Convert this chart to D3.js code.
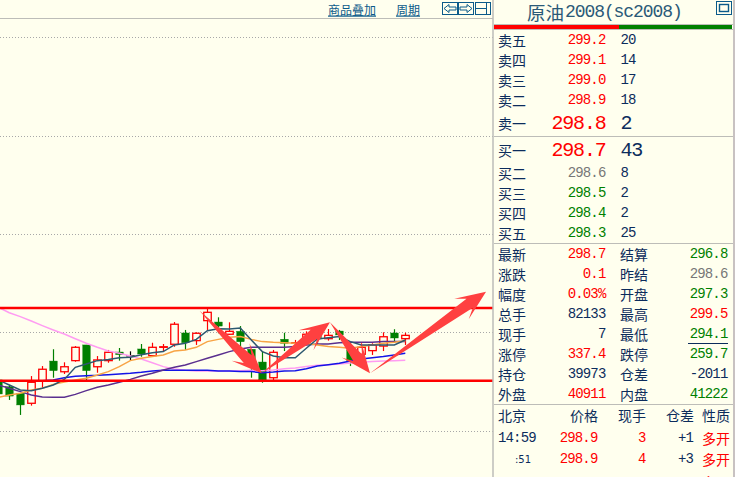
<!DOCTYPE html>
<html>
<head>
<meta charset="utf-8">
<script src="https://cdn.jsdelivr.net/npm/d3@7"></script>
<style>
html, body { margin: 0; padding: 0; background: #ffffee; overflow: hidden; }
svg { display: block; }
</style>
</head>
<body>
<svg id="chart"></svg>
<script>
// candles, oldest first
var opens = [294.32, 293.83, 293.36, 292.64, 294.27, 295.68, 294.91, 295.71, 296.84, 295.27, 295.71, 296.33, 296.07, 296.55, 296.07, 296.67, 296.89, 297.70, 297.15, 298.59, 298.49, 297.61, 297.82, 296.53, 295.61, 294.48, 297.25, 296.96, 297.05, 297.68, 297.29, 297.84, 296.48, 296.17, 296.43, 296.76, 297.70, 297.29];
var highs = [294.46, 293.96, 293.38, 294.60, 295.32, 296.53, 295.59, 296.76, 296.84, 296.04, 296.48, 296.62, 296.38, 296.91, 297.00, 296.91, 298.49, 297.92, 297.75, 299.48, 298.83, 298.47, 298.20, 296.55, 296.40, 296.48, 297.72, 297.20, 297.82, 297.87, 297.99, 297.92, 297.00, 296.96, 296.96, 297.75, 297.97, 297.72];
var lows = [293.02, 292.88, 291.80, 292.47, 293.74, 294.48, 294.75, 295.63, 294.24, 294.84, 295.56, 295.71, 295.71, 295.99, 295.99, 296.40, 296.71, 296.48, 296.84, 297.92, 297.68, 297.56, 296.71, 294.48, 294.12, 294.27, 296.40, 296.84, 296.84, 296.84, 297.15, 297.20, 295.32, 295.76, 296.12, 296.40, 297.12, 296.84];
var closes = [293.31, 293.16, 292.52, 294.15, 295.09, 294.99, 295.27, 296.67, 294.99, 295.76, 296.31, 296.14, 296.07, 296.19, 296.67, 296.71, 298.33, 297.00, 297.68, 299.19, 298.20, 297.82, 297.07, 295.83, 294.32, 296.31, 296.96, 297.00, 297.61, 297.27, 297.53, 297.56, 295.71, 296.67, 296.84, 297.43, 297.34, 297.53];

// moving averages
var ma5 = [294.32, 293.96, 293.60, 293.55, 293.72, 293.96, 294.36, 295.23, 295.47, 295.71, 295.80, 295.92, 295.95, 296.14, 296.28, 296.36, 296.84, 296.96, 297.24, 297.87, 298.01, 297.99, 298.06, 297.20, 296.36, 296.04, 295.92, 295.92, 296.60, 297.27, 297.36, 297.44, 297.08, 296.84, 296.84, 296.84, 296.84, 297.20];
var ma10 = [293.07, 293.24, 293.36, 293.60, 293.72, 294.00, 294.17, 294.32, 294.44, 294.68, 294.92, 295.28, 295.71, 295.88, 296.00, 296.12, 296.40, 296.48, 296.67, 297.08, 297.24, 297.39, 297.44, 297.24, 297.08, 297.03, 297.00, 296.96, 296.96, 296.84, 296.72, 296.67, 296.60, 296.72, 296.84, 296.96, 297.03, 297.15];
var ma20 = [293.96, 293.72, 293.48, 293.24, 293.09, 293.07, 293.07, 293.28, 293.55, 293.79, 293.96, 294.15, 294.36, 294.60, 294.80, 295.04, 295.23, 295.40, 295.64, 295.88, 296.12, 296.36, 296.55, 296.67, 296.67, 296.67, 296.67, 296.72, 296.84, 296.91, 296.91, 297.00, 297.03, 297.03, 297.03, 297.08, 297.08, 297.08];
var ma40 = [null, null, null, null, 294.27, 294.32, 294.48, 294.58, 294.63, 294.65, 294.70, 294.75, 294.80, 294.87, 294.96, 295.01, 295.01, 295.01, 295.01, 295.01, 294.96, 294.96, 294.92, 294.92, 294.84, 294.89, 294.96, 294.99, 295.13, 295.32, 295.42, 295.52, 295.68, 295.83, 295.92, 296.00, 296.12, 296.24];
var ma60 = [299.55, 299.16, 298.88, 298.56, 298.23, 297.92, 297.63, 297.29, 296.96, 296.67, 296.40, 296.24, 296.04, 295.83, 295.56, 295.28, 295.11, 295.01, 294.96, 294.96, 294.96, 294.96, 294.99, 295.01, 294.99, 295.04, 295.13, 295.18, 295.28, 295.37, 295.42, 295.47, 295.54, 295.59, 295.64, 295.68, 295.71, 295.73];

var gridPrices = [319.01, 311.88, 304.83, 297.77, 290.64];
var channelPrices = [299.5, 294.26];

// hand drawn arrows as [candle index, price]
var arrowStarts = [[18.3, 299.31], [23.95, 294.80], [30.15, 298.47], [33.79, 294.80]];
var arrowEnds = [[23.95, 294.80], [30.15, 298.47], [33.79, 294.80], [44.34, 300.67]];

// quote panel
var sellLabels = ["卖五", "卖四", "卖三", "卖二", "卖一"];
var sellPrices = ["299.2", "299.1", "299.0", "298.9", "298.8"];
var sellVols = ["20", "14", "17", "18", "2"];
var buyLabels = ["买一", "买二", "买三", "买四", "买五"];
var buyPrices = ["298.7", "298.6", "298.5", "298.4", "298.3"];
var buyVols = ["43", "8", "2", "2", "25"];
var leftLabels = ["最新", "涨跌", "幅度", "总手", "现手", "涨停", "持仓", "外盘"];
var leftValues = ["298.7", "0.1", "0.03%", "82133", "7", "337.4", "39973", "40911"];
var rightLabels = ["结算", "昨结", "开盘", "最高", "最低", "跌停", "仓差", "内盘"];
var rightValues = ["296.8", "298.6", "297.3", "299.5", "294.1", "259.7", "-2011", "41222"];
var tickHeaders = ["北京", "价格", "现手", "仓差", "性质"];
var tickTimes = ["14:59", ":51"];
var tickPrices = ["298.9", "298.9"];
var tickVols = ["3", "4"];
var tickDiffs = ["+1", "+3"];
var tickTypes = ["多开", "多开", "多开"];

var W = 735, H = 477, plotRight = 493;
var RED = "#ff0000", GREEN = "#007f00", NAVY = "#0c2c5c", GRAY = "#777777", LINE = "#bdbdb8", BLUE = "#0b5a8a";
var CJK = "'Noto Sans CJK SC'", MONO = "'Liberation Mono'";

var svg = d3.select("#chart").attr("width", W).attr("height", H);
svg.append("rect").attr("width", W).attr("height", H).attr("fill", "#ffffee");
svg.append("clipPath").attr("id", "plot").append("rect").attr("width", plotRight).attr("height", H);

var x = d3.scaleLinear().domain([0, 37]).range([-1.7, 405.3]);
var y = d3.scaleLinear().domain([299.5, 294.1]).range([308, 383]);

var plot = svg.append("g").attr("clip-path", "url(#plot)");

plot.selectAll("line.grid").data(gridPrices).enter().append("line")
	.attr("class", "grid")
	.attr("x1", 0).attr("x2", plotRight)
	.attr("y1", function(d) { return Math.round(y(d)) + 0.5; })
	.attr("y2", function(d) { return Math.round(y(d)) + 0.5; })
	.attr("stroke", "#a8a8a8").attr("stroke-dasharray", "1,2");

// candles
function candleColor(i) {
	if (closes[i] > opens[i]) return RED;
	if (closes[i] < opens[i]) return GREEN;
	return "#000000";
}
var idx = d3.range(opens.length);
var bodyW = 7.5;
var candles = plot.append("g");
candles.selectAll("line").data(idx).enter().append("line")
	.attr("x1", function(i) { return Math.round(x(i)) + 0.5; })
	.attr("x2", function(i) { return Math.round(x(i)) + 0.5; })
	.attr("y1", function(i) { return y(highs[i]); })
	.attr("y2", function(i) { return y(lows[i]); })
	.attr("stroke", candleColor).attr("stroke-width", 1.2);
candles.selectAll("rect").data(idx).enter().append("rect")
	.attr("x", function(i) { return Math.round(x(i)) + 0.5 - bodyW / 2; })
	.attr("y", function(i) { return y(Math.max(opens[i], closes[i])); })
	.attr("width", bodyW)
	.attr("height", function(i) { return Math.max(0.5, Math.abs(y(opens[i]) - y(closes[i]))); })
	.attr("fill", function(i) { return closes[i] > opens[i] ? "#ffffee" : candleColor(i); })
	.attr("stroke", candleColor).attr("stroke-width", function(i) { return closes[i] > opens[i] ? 1.3 : 0.4; });

// moving averages
var maLine = d3.line()
	.defined(function(d) { return d !== null; })
	.x(function(d, i) { return x(i); })
	.y(function(d) { return y(d); });
var maSeries = [[ma60, "#ff9cf2"], [ma40, "#1414e6"], [ma20, "#5a2f8e"], [ma10, "#f8a445"], [ma5, "#2c5870"]];
maSeries.forEach(function(s) {
	plot.append("path").attr("d", maLine(s[0])).attr("fill", "none")
		.attr("stroke", s[1]).attr("stroke-width", 1.5);
});

// channel lines
plot.selectAll("line.channel").data(channelPrices).enter().append("line")
	.attr("class", "channel")
	.attr("x1", 0).attr("x2", plotRight)
	.attr("y1", y).attr("y2", y)
	.attr("stroke", RED).attr("stroke-width", 2.5);

// arrows
function arrowPoints(a, b) {
	var x0 = x(a[0]), y0 = y(a[1]), x1 = x(b[0]), y1 = y(b[1]);
	var L = Math.hypot(x1 - x0, y1 - y0), ux = (x1 - x0) / L, uy = (y1 - y0) / L;
	var local = [[0, 0], [L - 20, 5.5], [L - 30, 12.5], [L, 0], [L - 30, -12.5], [L - 20, -5.5]];
	return local.map(function(p) {
		return [x0 + ux * p[0] - uy * p[1], y0 + uy * p[0] + ux * p[1]].join(",");
	}).join(" ");
}
svg.append("g").selectAll("polygon").data(arrowStarts).enter().append("polygon")
	.attr("points", function(d, i) { return arrowPoints(d, arrowEnds[i]); })
	.attr("fill", "#ff4040");

// frame
function hline(x1, x2, yy, color) {
	svg.append("line").attr("x1", x1).attr("x2", x2).attr("y1", yy).attr("y2", yy).attr("stroke", color || LINE);
}
hline(0, plotRight, 18.5);
svg.append("line").attr("x1", 493).attr("x2", 493).attr("y1", 0).attr("y2", H).attr("stroke", LINE).attr("stroke-width", 1.5);
svg.append("rect").attr("x", 733).attr("y", 0).attr("width", 2).attr("height", H).attr("fill", "#c8c2c2");
hline(494, 733, 24.5);
hline(494, 733, 29.5);
svg.append("rect").attr("x", 494).attr("y", 25).attr("width", 125).attr("height", 4).attr("fill", RED);
svg.append("rect").attr("x", 619).attr("y", 25).attr("width", 113).attr("height", 4).attr("fill", "#008000");
hline(494, 733, 136.5);
hline(494, 733, 243.5);
hline(494, 733, 404.5);
hline(688, 728, 343.5, NAVY);

// digits are drawn a size up and squeezed, like the narrow bitmap font of the original
function label(txt, xx, yy, opts) {
	opts = opts || {};
	var size = opts.size || 14;
	var t = svg.append("text").attr("x", xx).attr("y", yy - 1)
		.attr("dominant-baseline", "central")
		.attr("text-anchor", opts.anchor || "start")
		.attr("font-family", opts.font || CJK)
		.attr("font-size", size)
		.attr("fill", opts.color || NAVY)
		.text(txt);
	if (opts.font === MONO) t.attr("letter-spacing", (-size * 0.06).toFixed(2));
	return t;
}

// toolbar
label("商品叠加", 328, 10, {size: 12, color: BLUE}).attr("text-decoration", "underline");
label("周期", 396, 10, {size: 12, color: BLUE}).attr("text-decoration", "underline");
var buttonX = [442, 458, 475];
buttonX.forEach(function(bx) {
	svg.append("rect").attr("x", bx + 0.5).attr("y", 2.5).attr("width", 15).attr("height", 12)
		.attr("fill", "none").attr("stroke", BLUE);
});
svg.append("path").attr("d", "M444,8.5 L449,4.5 L449,7 L456,7 L456,10 L449,10 L449,12.5 Z").attr("fill", "none").attr("stroke", BLUE);
svg.append("path").attr("d", "M472,8.5 L467,4.5 L467,7 L460,7 L460,10 L467,10 L467,12.5 Z").attr("fill", "none").attr("stroke", BLUE);
svg.append("path").attr("d", "M475.5,8.5 H486 M486.5,3 V14").attr("fill", "none").attr("stroke", BLUE);
svg.append("rect").attr("x", 716.5).attr("y", 1.5).attr("width", 15).attr("height", 13).attr("fill", "none").attr("stroke", BLUE);
svg.append("rect").attr("x", 719.5).attr("y", 4.5).attr("width", 9).attr("height", 7).attr("fill", "none").attr("stroke", BLUE).attr("stroke-width", 1.4);

// title
label("原油", 527, 13, {size: 18.5, color: "#2b5a78"});
label("2008(sc2008)", 565, 13, {size: 18, font: MONO, color: "#2b5a78"});

// order book
var sellY = [41, 61, 81, 101, 124];
var buyY = [151, 174, 194, 214, 234];
var buyColors = [RED, GRAY, GREEN, GREEN, GREEN];
sellLabels.forEach(function(t, i) {
	var big = i === 4;
	label(t, 498, sellY[i]);
	label(sellPrices[i], 605.5, sellY[i], {font: MONO, size: big ? 20 : 14, color: RED, anchor: "end"});
	label(sellVols[i], 620.5, sellY[i], {font: MONO, size: big ? 20 : 14});
});
buyLabels.forEach(function(t, i) {
	var big = i === 0;
	label(t, 498, buyY[i]);
	label(buyPrices[i], 605.5, buyY[i], {font: MONO, size: big ? 20 : 14, color: buyColors[i], anchor: "end"});
	label(buyVols[i], 620.5, buyY[i], {font: MONO, size: big ? 20 : 14});
});

// summary block
var rowY = [255, 275, 295, 315, 335, 355, 375, 395];
var leftColors = [RED, RED, RED, NAVY, NAVY, RED, NAVY, RED];
var rightColors = [GREEN, GRAY, GREEN, RED, GREEN, GREEN, NAVY, GREEN];
leftLabels.forEach(function(t, i) {
	label(t, 498, rowY[i]);
	label(leftValues[i], 605.5, rowY[i], {font: MONO, size: 14, color: leftColors[i], anchor: "end"});
	label(rightLabels[i], 620, rowY[i]);
	label(rightValues[i], 727.5, rowY[i], {font: MONO, size: 14, color: rightColors[i], anchor: "end"});
});

// tick list
var headerX = [498, 570, 618, 666, 702];
tickHeaders.forEach(function(t, i) { label(t, headerX[i], 416); });
var tickY = [439, 460, 483];
tickTimes.forEach(function(t, i) {
	if (i === 0) label(t, 498, tickY[i], {font: MONO, size: 14});
	else label(t, 515, tickY[i], {size: 10, font: "'DejaVu Sans'"});
	label(tickPrices[i], 597.5, tickY[i], {font: MONO, size: 14, color: RED, anchor: "end"});
	label(tickVols[i], 645.5, tickY[i], {font: MONO, size: 14, color: RED, anchor: "end"});
	label(tickDiffs[i], 693, tickY[i], {font: MONO, size: 14, anchor: "end"});
});
tickTypes.forEach(function(t, i) { label(t, 702, tickY[i], {color: RED}); });
</script>
</body>
</html>
